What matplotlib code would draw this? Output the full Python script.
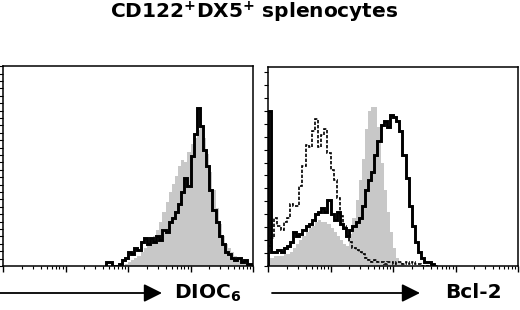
import numpy as np
import matplotlib
matplotlib.use("Agg")
import matplotlib.pyplot as plt
from matplotlib.ticker import LogLocator, MultipleLocator, NullFormatter

plt.rcParams['font.family'] = ['DejaVu Sans']
plt.rcParams['mathtext.fontset'] = 'custom'
plt.rcParams['mathtext.rm'] = 'DejaVu Sans'
plt.rcParams['mathtext.bf'] = 'DejaVu Sans:bold'
plt.rcParams['mathtext.default'] = 'bf'

# histograms, counts in % of the y range, bins of 0.05 decade
bin_w = 0.05

# DIOC6 panel (first bin starts at 10^1.65)
dioc_start = 1.65
dioc_gray = [0, 0, 0, 0, 0, 0, 1, 2, 3, 4, 5, 7, 9, 11, 13, 15, 18, 22, 27, 32,
             37, 41, 45, 50, 53, 52, 57, 61, 64, 68, 69, 64, 56, 47, 38, 29, 21, 15, 11, 9,
             7, 5, 4, 3, 2, 1, 1]
dioc_black = [2, 2, 0, 0, 1, 3, 4, 7, 6, 9, 8, 12, 14, 11, 14, 12, 15, 13, 18, 17,
              22, 24, 27, 31, 37, 44, 40, 55, 66, 79, 70, 58, 50, 38, 28, 22, 15, 11, 7, 6,
              4, 3, 4, 2, 3, 1, 1]

# Bcl-2 panel (first bin starts at 10^0)
bcl_start = 0.0
bcl_gray = [4, 4, 5, 5, 5, 6, 6, 7, 9, 11, 13, 15, 17, 19, 20, 22, 23, 22, 22, 21,
            19, 17, 15, 13, 11, 10, 16, 24, 33, 43, 54, 69, 78, 80, 80, 70, 52, 38, 27, 17,
            9, 4, 2, 1, 0, 0, 0, 0, 0, 0, 0, 0, 0, 0]
bcl_black = [78, 7, 7, 8, 7, 9, 10, 12, 17, 15, 16, 18, 20, 21, 23, 26, 27, 29, 27, 33,
             26, 23, 27, 21, 19, 15, 18, 20, 22, 24, 30, 38, 43, 47, 56, 63, 71, 73, 70, 76,
             75, 73, 68, 56, 44, 30, 20, 12, 7, 4, 2, 2, 1, 0]
bcl_dotted = [10, 14, 24, 20, 18, 22, 24, 31, 30, 30, 40, 50, 61, 60, 68, 74, 60, 66, 69, 57,
              48, 43, 34, 25, 20, 15, 12, 9, 8, 7, 6, 4, 3, 2, 3, 2, 2, 1, 2, 2,
              1, 2, 2, 1, 2, 1, 2, 1, 1, 0, 0, 0, 0, 0]

title = "CD122$^{+}$DX5$^{+}$ splenocytes"
labels = ["DIOC$_6$", "Bcl-2"]

gray = "#c8c8c8"


def edges(start, n):
    return 10 ** (start + bin_w * np.arange(n + 1))


def style_axes(ax, ystep):
    ax.set_xscale("log")
    ax.set_xlim(1, 1e4)
    ax.set_ylim(0, 100)
    ax.xaxis.set_major_locator(LogLocator(base=10, numticks=10))
    ax.xaxis.set_minor_locator(LogLocator(base=10, subs=np.arange(2, 10), numticks=50))
    ax.xaxis.set_major_formatter(NullFormatter())
    ax.xaxis.set_minor_formatter(NullFormatter())
    ax.yaxis.set_major_locator(MultipleLocator(ystep))
    ax.yaxis.set_major_formatter(NullFormatter())
    ax.tick_params(axis="x", which="major", direction="out", length=4, width=1)
    ax.tick_params(axis="x", which="minor", direction="out", length=2.5, width=0.8)
    ax.tick_params(axis="y", which="major", direction="out", length=3, width=0.8)
    for s in ax.spines.values():
        s.set_linewidth(1.1)


fig = plt.figure(figsize=(5.2, 3.1), dpi=100)
ax1 = fig.add_axes([3 / 520, 44 / 310, 250 / 520, 200 / 310])
ax2 = fig.add_axes([268 / 520, 44 / 310, 250 / 520, 199 / 310])

e = edges(dioc_start, len(dioc_gray))
ax1.stairs(dioc_gray, e, fill=True, color=gray, lw=0)
ax1.stairs(dioc_black, e, color="black", lw=2.1)
style_axes(ax1, 3.7)

e = edges(bcl_start, len(bcl_gray))
ax2.stairs(bcl_gray, e, fill=True, color=gray, lw=0)
ax2.stairs(bcl_dotted, e, color="black", lw=1.2, linestyle=(0, (2, 1)))
ax2.stairs(bcl_black, e, color="black", lw=2.1)
style_axes(ax2, 6.5)

fig.text(254 / 520, 1 - 12 / 310, title, ha="center", va="center",
         fontsize=14.5, fontweight="bold")

# arrows under the panels
for x0, x1, xt, lab in [(0, 162, 174, labels[0]), (272, 420, 445, labels[1])]:
    fig.add_artist(matplotlib.patches.FancyArrowPatch(
        (x0 / 520, 1 - 293 / 310), (x1 / 520, 1 - 293 / 310),
        transform=fig.transFigure, arrowstyle="-|>,head_length=5,head_width=2.5",
        color="black", lw=1.3, mutation_scale=2.2, shrinkA=0, shrinkB=0))
    fig.text(xt / 520, 1 - 293 / 310, lab, ha="left", va="center",
             fontsize=14.5, fontweight="bold")

fig.savefig("out.png", dpi=100)
